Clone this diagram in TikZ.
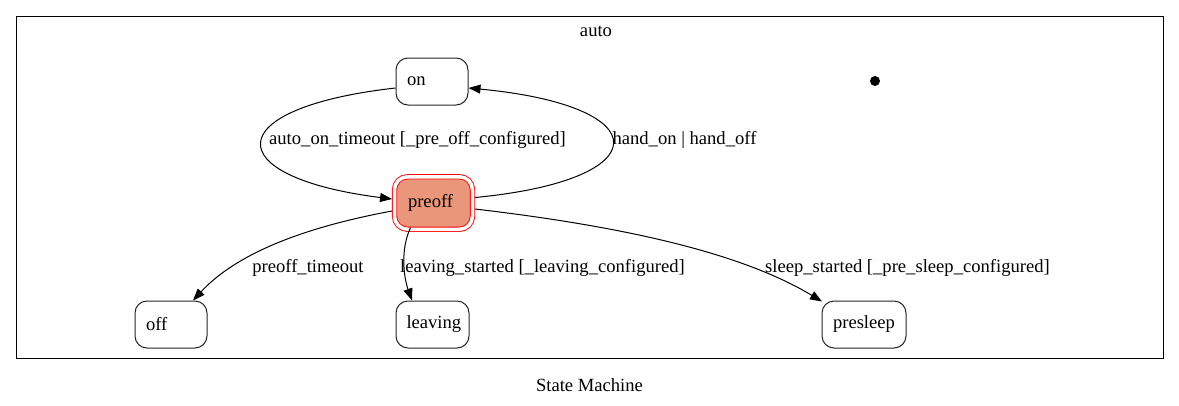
\documentclass[tikz,border=0pt]{standalone}
\usepackage{fontspec}
\setmainfont{Liberation Serif}
\usetikzlibrary{arrows.meta}
\definecolor{salmonfill}{HTML}{E9967A}
\begin{document}
\begin{tikzpicture}[x=1pt,y=-1pt,
  every node/.style={font=\fontsize{18.6}{21}\selectfont},
  st/.style={draw=black!85, line width=1pt, rounded corners=12pt, minimum height=47pt, inner xsep=11pt, inner ysep=0pt, align=left},
  lbl/.style={inner sep=0pt, anchor=center},
  tr/.style={line width=1pt, -{Triangle[length=12pt,width=9pt]}}]
\useasboundingbox (0,0) rectangle (1179,405);
\fill[white] (0,0) rectangle (1179,405);
% cluster
\node[draw, line width=1pt, minimum width=1147pt, minimum height=342pt, inner sep=0pt] (cluster) at (589.5,187) {};
\node[lbl] (auto) at (596,31.5) {auto};
\node[lbl] (title) at (589.5,385.5) {State Machine};
% states
\node[st, text width=50pt] (on) at (432,81.5) {\raisebox{-1pt}{on}};
\node[st, text width=51pt, inner xsep=13.5pt, minimum height=52.5pt, rounded corners=13pt, fill=salmonfill, draw=red, line width=0.9pt, double=white, double distance=3.5pt] (preoff) at (433.5,203) {\raisebox{-1pt}{preoff}};
\node[st, text width=50pt] (off) at (171,324.5) {\raisebox{-1pt}{off}};
\node[st, text width=52pt, inner xsep=10.5pt] (leaving) at (432.5,324.5) {\raisebox{-1pt}{leaving}};
\node[st, text width=62pt] (presleep) at (864,324.5) {\raisebox{-1pt}{presleep}};
\node[circle, fill=black, minimum size=10pt, inner sep=0pt] (init) at (875,81) {};
% edges
\draw[tr] ([yshift=-6.5pt]on.west) .. controls (218,108) and (218,177) .. ([xshift=-2pt,yshift=4pt]preoff.west);
\draw[tr] ([xshift=2pt,yshift=5.5pt]preoff.east) .. controls (659,180) and (659,106) .. ([yshift=-6.5pt]on.east);
\draw[tr] ([xshift=-2pt,yshift=-8pt]preoff.west) .. controls (300,228) and (235,255) .. ([xshift=22pt]off.north);
\draw[tr] ([xshift=-23pt,yshift=2pt]preoff.south) .. controls (400,250) and (404,278) .. ([xshift=-20.5pt]leaving.north);
\draw[tr] ([xshift=2pt,yshift=-6pt]preoff.east) .. controls (620,226) and (740,252) .. ([xshift=-42pt,yshift=-1pt]presleep.north);
% labels
\node[lbl] (l1) at (417.5,139.5) {auto\_on\_timeout [\_pre\_off\_configured]};
\node[lbl] (l2) at (684.5,139.5) {hand\_on | hand\_off};
\node[lbl] (l3) at (308,267.5) {preoff\_timeout};
\node[lbl] (l4) at (542.5,267.5) {leaving\_started [\_leaving\_configured]};
\node[lbl] (l5) at (907.5,267.5) {sleep\_started [\_pre\_sleep\_configured]};
\end{tikzpicture}
\end{document}
